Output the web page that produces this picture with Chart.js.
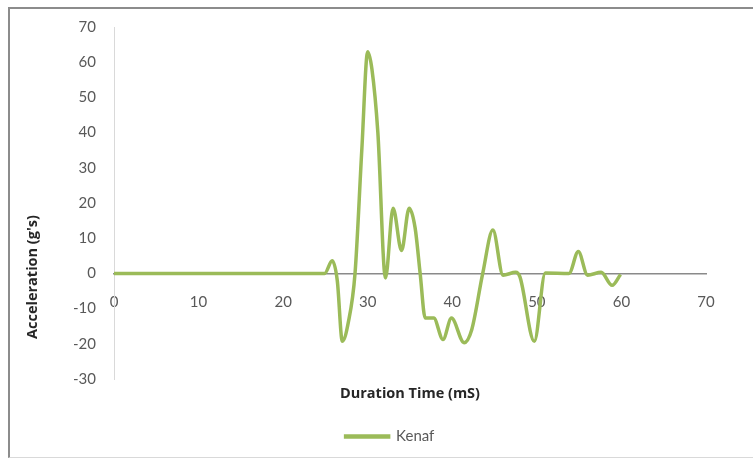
<!DOCTYPE html>
<html>
<head>
<meta charset="utf-8">
<script src="https://cdn.jsdelivr.net/npm/chart.js@4/dist/chart.umd.min.js"></script>
<style>
  html, body { margin: 0; padding: 0; background: #ffffff; }
  #wrap { position: relative; width: 753px; height: 460px; overflow: hidden; }
  #frame { position: absolute; left: 8px; top: 7px; width: 800px; height: 451px;
           border-top: 2px solid #8c8c8c; border-left: 2px solid #8c8c8c; border-bottom: 1px solid #d9d9d9; box-sizing: border-box; }
  canvas { position: absolute; left: 0; top: 0; }
</style>
</head>
<body>
<div id="wrap">
  <div id="frame"></div>
  <canvas id="c" width="753" height="460"></canvas>
</div>
<script>
// Data
const seriesName = "Kenaf";
const timeMs = [0, 24.9, 25.8, 26.4, 27.0, 27.7, 28.5, 29.3, 30.0, 30.5, 31.2, 32.1, 33.0, 34.0, 34.9, 35.6, 36.2, 36.8, 37.8, 38.9, 39.9, 41.4, 42.3, 43.6, 44.8, 46.0, 47.5, 48.0, 49.7, 51.0, 53.8, 54.9, 56.0, 57.6, 58.9, 59.9];
const accel  = [0, 0,    3.6,  -2,   -19.3, -14, 0,   35,   63,   58,   40,   -1.3, 18.5, 6.5,  18.5, 13,   0,    -12.7, -12.7, -18.8, -12.7, -19.7, -16, 0,    12.3, -0.5, 0.3,  -1,   -19.3, 0.1,  0,    6.2,  -0.5, 0.3,  -3.4, -0.3];
const xTitle = "Duration Time (mS)";
const yTitle = "Acceleration (g's)";

const points = timeMs.map((t, i) => ({ x: t, y: accel[i] }));

const yTitlePlugin = {
  id: 'yTitle',
  afterDraw(chart) {
    const ctx = chart.ctx;
    ctx.save();
    ctx.translate(33, 277);
    ctx.rotate(-Math.PI / 2);
    ctx.font = "bold 14.5px 'Open Sans'";
    ctx.fillStyle = "#262626";
    ctx.textAlign = "center";
    ctx.textBaseline = "middle";
    ctx.fillText(yTitle, 0, 0);
    ctx.restore();
  }
};

new Chart(document.getElementById('c'), {
  type: 'line',
  data: {
    datasets: [{
      label: seriesName,
      data: points,
      borderColor: '#9BBB59',
      backgroundColor: '#9BBB59',
      borderWidth: 3.5,
      pointRadius: 0,
      cubicInterpolationMode: 'monotone',
      fill: false
    }]
  },
  options: {
    responsive: false,
    animation: false,
    layout: { padding: { left: 74, right: 47, top: 27, bottom: 6 } },
    plugins: {
      legend: {
        position: 'bottom',
        labels: {
          boxWidth: 43, boxHeight: 1,
          color: '#595959',
          font: { family: 'Lato', size: 15 },
          padding: 10
        }
      },
      tooltip: { enabled: false }
    },
    scales: {
      x: {
        type: 'linear',
        position: { y: 0 },
        min: 0, max: 70,
        grid: { display: false, drawTicks: false },
        border: { display: true, color: '#8a8a8a', width: 1.5 },
        ticks: { stepSize: 10, padding: 20, color: '#595959', font: { family: 'Lato', size: 15 }, maxRotation: 0 }
      },
      x2: {
        type: 'linear',
        position: 'bottom',
        min: 0, max: 70,
        grid: { display: false, drawTicks: false },
        border: { display: false },
        ticks: { display: false },
        title: { display: true, text: xTitle, color: '#262626', font: { family: 'Open Sans', size: 14.5, weight: 'bold' }, padding: { top: 0, bottom: 16 } },
        afterFit(s) { s.height = 40; }
      },
      y: {
        type: 'linear',
        position: 'left',
        min: -30, max: 70,
        grid: { display: false, drawTicks: false },
        border: { display: true, color: '#d9d9d9', width: 1 },
        ticks: { stepSize: 10, padding: 18, color: '#595959', font: { family: 'Lato', size: 15 } },
        afterFit(s) { s.width = 40; }
      }
    }
  },
  plugins: [yTitlePlugin]
});
</script>
</body>
</html>
